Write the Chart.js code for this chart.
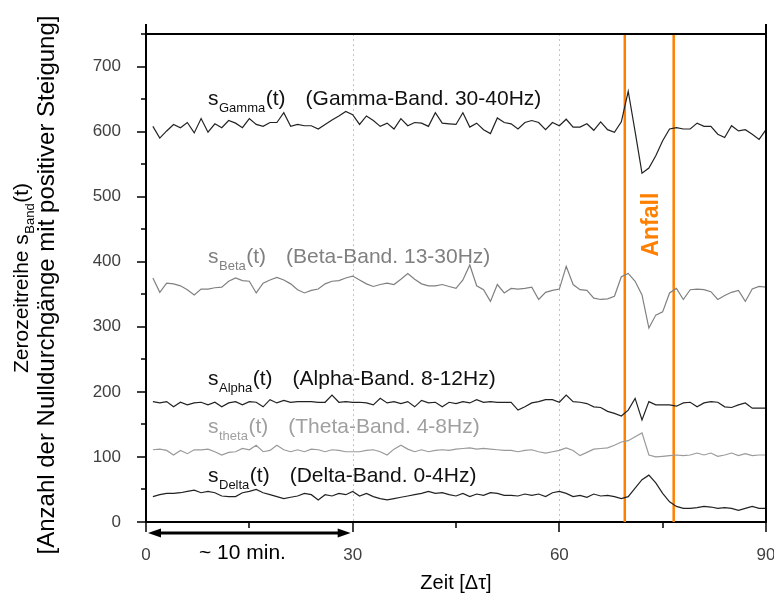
<!DOCTYPE html>
<html>
<head>
<meta charset="utf-8">
<script src="https://cdn.jsdelivr.net/npm/chart.js@4/dist/chart.umd.min.js"></script>
<style>
html,body{margin:0;padding:0;background:#fff;}
#wrap{width:774px;height:599px;}
canvas{display:block;}
</style>
</head>
<body>
<div id="wrap"><canvas id="c" width="774" height="599"></canvas></div>
<script>
// ---------- data ----------
const timeSteps = [1,2,3,4,5,6,7,8,9,10,11,12,13,14,15,16,17,18,19,20,
  21,22,23,24,25,26,27,28,29,30,31,32,33,34,35,36,37,38,39,40,
  41,42,43,44,45,46,47,48,49,50,51,52,53,54,55,56,57,58,59,60,
  61,62,63,64,65,66,67,68,69,70,71,72,73,74,75,76,77,78,79,80,
  81,82,83,84,85,86,87,88,89,90];

const gammaBand = [608,590,601,611,606,614,598,620,599,612,
  606,617,613,606,620,611,608,614,614,629,
  608,611,609,609,604,611,618,624,631,626,
  611,624,617,608,613,604,620,609,614,613,
  608,629,613,612,611,629,607,613,603,597,
  621,614,612,604,614,617,614,603,614,609,
  619,607,607,612,602,615,603,599,615,662,
  600,536,544,563,586,604,606,604,604,613,
  608,608,596,591,609,601,603,596,588,603];

const betaBand = [375,353,367,366,363,357,349,358,358,360,
  361,370,375,371,370,352,367,372,376,372,
  366,357,352,356,358,366,370,371,375,378,
  372,366,362,365,367,365,373,382,373,366,
  363,363,365,362,359,372,395,363,357,339,
  365,352,359,358,359,361,342,353,356,358,
  393,365,357,356,344,342,343,347,377,382,
  370,349,298,318,323,352,359,342,357,358,
  357,354,342,348,353,356,339,358,362,361];

const alphaBand = [185,183,185,177,184,180,183,184,180,184,
  177,183,185,180,185,184,177,188,183,187,
  184,185,185,185,184,184,195,184,185,184,
  184,183,180,190,183,185,182,185,177,187,
  183,184,177,184,182,185,183,188,184,185,
  184,184,184,172,177,183,185,188,188,184,
  195,185,184,182,177,176,170,167,163,172,
  190,157,185,180,180,180,178,183,184,177,
  183,185,184,177,176,180,183,175,175,175];

const thetaBand = [111,112,110,103,110,105,111,111,112,108,
  103,107,108,113,111,118,108,110,118,111,
  108,111,108,112,111,108,111,110,108,108,
  108,110,111,108,103,112,118,112,108,111,
  108,110,111,110,112,113,114,112,113,112,
  111,110,110,108,110,111,108,106,108,110,
  114,110,102,107,112,113,114,118,123,125,
  131,137,103,100,101,102,103,102,103,106,
  103,106,101,103,106,102,105,102,103,103];

const deltaBand = [39,42,44,44,45,47,49,45,47,45,
  40,39,39,45,47,50,45,42,39,36,
  38,40,44,42,34,42,40,44,42,47,
  40,44,39,36,34,36,38,40,42,44,
  47,44,45,42,40,44,39,43,41,45,
  44,41,41,40,43,41,43,39,45,47,
  44,39,41,38,43,40,41,39,36,39,
  52,65,72,60,44,31,24,21,21,22,
  24,23,21,22,21,18,21,24,21,21];

const seizureStart = 69.5;
const seizureEnd = 76.6;

const xTickValues = [0,15,30,45,60,75,90];
const xTickLabels = ['0','','30','','60','','90'];
const yTickValues = [0,50,100,150,200,250,300,350,400,450,500,550,600,650,700,750];
const yTickLabels = ['0','','100','','200','','300','','400','','500','','600','','700',''];

const bandNames = ['Gamma','Beta','Alpha','theta','Delta'];
const bandTexts = ['(Gamma-Band. 30-40Hz)','(Beta-Band. 13-30Hz)','(Alpha-Band. 8-12Hz)','(Theta-Band. 4-8Hz)','(Delta-Band. 0-4Hz)'];

// ---------- styling ----------
const FONT = '"Liberation Sans", Arial, Helvetica, sans-serif';
const seriesColors = ['#222222','#808080','#222222','#9a9a9a','#222222'];
const labelColors  = ['#111111','#808080','#111111','#a0a0a0','#111111'];
const labelAnchorY = [641, 398, 211, 137, 62];   // baseline in data units
const labelAnchorX = 9;

function pts(arr){ return timeSteps.map((t,i)=>({x:t,y:arr[i]})); }
function vline(v){ return [{x:v,y:0},{x:v,y:750}]; }

const series = [gammaBand, betaBand, alphaBand, thetaBand, deltaBand];
const datasets = series.map((arr,i)=>({
  label: bandNames[i], data: pts(arr), borderColor: seriesColors[i],
  borderWidth: 1.2, pointRadius: 0, tension: 0, fill:false
}));
datasets.push({label:'Anfall Beginn', data: vline(seizureStart), borderColor:'#ff8000', borderWidth:2.5, pointRadius:0});
datasets.push({label:'Anfall Ende', data: vline(seizureEnd), borderColor:'#ff8000', borderWidth:2.5, pointRadius:0});

const deco = {
  id:'deco',
  beforeDatasetsDraw(chart){
    const {ctx, chartArea:a, scales:{x}} = chart;
    ctx.save();
    ctx.strokeStyle = '#c4c4c4'; ctx.lineWidth = 1; ctx.setLineDash([2,3]);
    [30,60].forEach(v=>{
      const px = Math.round(x.getPixelForValue(v))+0.5;
      ctx.beginPath(); ctx.moveTo(px,a.top); ctx.lineTo(px,a.bottom); ctx.stroke();
    });
    ctx.restore();
  },
  afterDraw(chart){
    const {ctx, chartArea:a, scales:{x,y}} = chart;
    ctx.save();
    // frame
    ctx.strokeStyle='#000'; ctx.lineWidth=2;
    ctx.beginPath();
    ctx.moveTo(a.left, a.top-10); ctx.lineTo(a.left, a.top);
    ctx.moveTo(a.left, a.top); ctx.lineTo(a.right, a.top);
    ctx.moveTo(a.right, a.top-10); ctx.lineTo(a.right, a.bottom);
    ctx.stroke();
    // ticks
    ctx.lineWidth = 1.5;
    ctx.beginPath();
    yTickValues.forEach(v=>{
      const py = Math.round(y.getPixelForValue(v));
      const len = v%100===0 ? 9 : 5;
      ctx.moveTo(a.left-len, py); ctx.lineTo(a.left, py);
    });
    xTickValues.forEach(v=>{
      const px = Math.round(x.getPixelForValue(v));
      const len = v%30===0 ? 10 : 6;
      ctx.moveTo(px, a.bottom); ctx.lineTo(px, a.bottom+len);
    });
    ctx.stroke();

    // arrow 0..30
    const ax1 = x.getPixelForValue(0)+2, ax2 = x.getPixelForValue(30)-2, ay = a.bottom+11;
    ctx.lineWidth = 3; ctx.strokeStyle='#000'; ctx.fillStyle='#000';
    ctx.beginPath(); ctx.moveTo(ax1+8, ay); ctx.lineTo(ax2-8, ay); ctx.stroke();
    ctx.beginPath(); ctx.moveTo(ax1, ay); ctx.lineTo(ax1+13, ay-4.5); ctx.lineTo(ax1+13, ay+4.5); ctx.closePath(); ctx.fill();
    ctx.beginPath(); ctx.moveTo(ax2, ay); ctx.lineTo(ax2-13, ay-4.5); ctx.lineTo(ax2-13, ay+4.5); ctx.closePath(); ctx.fill();
    ctx.font = `21px ${FONT}`; ctx.textAlign='center'; ctx.textBaseline='middle';
    ctx.fillText('~ 10 min.', x.getPixelForValue(14), a.bottom+31);

    // band labels
    ctx.textAlign='left'; ctx.textBaseline='alphabetic';
    bandNames.forEach((n,i)=>{
      const x0 = x.getPixelForValue(labelAnchorX);
      const yb = y.getPixelForValue(labelAnchorY[i]);
      ctx.fillStyle = labelColors[i];
      ctx.font = `21px ${FONT}`;
      ctx.fillText('s', x0, yb);
      let cx = x0 + ctx.measureText('s').width + 0.5;
      ctx.font = `13px ${FONT}`;
      ctx.fillText(n, cx, yb+7);
      cx += ctx.measureText(n).width + 0.5;
      ctx.font = `21px ${FONT}`;
      ctx.fillText('(t)', cx, yb);
      cx += ctx.measureText('(t)').width + 20;
      ctx.fillText(bandTexts[i], cx, yb);
    });

    // Anfall
    ctx.save();
    ctx.translate(x.getPixelForValue(73.45), y.getPixelForValue(457));
    ctx.rotate(-Math.PI/2);
    ctx.fillStyle='#ff8000'; ctx.font=`bold 23px ${FONT}`;
    ctx.textAlign='center'; ctx.textBaseline='middle';
    ctx.fillText('Anfall', 0, 0);
    ctx.restore();

    // y-axis title
    const cy = (a.top + a.bottom)/2;
    ctx.save();
    ctx.translate(0, cy);
    ctx.rotate(-Math.PI/2);
    ctx.fillStyle='#000'; ctx.textBaseline='alphabetic'; ctx.textAlign='left';
    // line 1 : baseline at screen x=28
    ctx.font = `21px ${FONT}`;
    const p1 = 'Zerozeitreihe s', p3 = '(t)';
    const w1 = ctx.measureText(p1).width, w3 = ctx.measureText(p3).width;
    ctx.font = `13px ${FONT}`;
    const w2 = ctx.measureText('Band').width;
    const tot = w1 + w2 + w3 + 1;
    let lx = -tot/2;
    ctx.font = `21px ${FONT}`; ctx.fillText(p1, lx, 28);
    lx += w1 + 0.5;
    ctx.font = `13px ${FONT}`; ctx.fillText('Band', lx, 28+6);
    lx += w2 + 0.5;
    ctx.font = `21px ${FONT}`; ctx.fillText(p3, lx, 28);
    // line 2
    ctx.textAlign='center';
    ctx.font = `24px ${FONT}`;
    ctx.fillText('[Anzahl der Nulldurchgänge mit positiver Steigung]', -7, 54);
    ctx.restore();

    ctx.restore();
  }
};

new Chart(document.getElementById('c'), {
  type:'line',
  data:{ datasets },
  options:{
    responsive:false, animation:false, devicePixelRatio:1,
    layout:{ padding:{top:34,right:8,left:0,bottom:0}, autoPadding:false },
    plugins:{ legend:{display:false}, tooltip:{enabled:false} },
    scales:{
      x:{
        type:'linear', min:0, max:90,
        afterBuildTicks: s => { s.ticks = xTickValues.map(v=>({value:v})); },
        afterFit: s => { s.height = 77; s.paddingLeft = 0; s.paddingRight = 0; },
        grid:{display:false},
        border:{display:true, color:'#000', width:2},
        ticks:{ autoSkip:false, maxRotation:0, padding:15, color:'#404040',
          font:{family:FONT, size:17},
          callback: v => { const k = xTickValues.indexOf(v); return k>=0 ? xTickLabels[k] : ''; } },
        title:{ display:true, text:'Zeit [Δτ]', color:'#000', font:{family:FONT, size:20}, padding:{top:0,bottom:4} }
      },
      y:{
        type:'linear', min:0, max:750,
        afterBuildTicks: s => { s.ticks = yTickValues.map(v=>({value:v})); },
        afterFit: s => { s.width = 146; s.paddingTop = 0; s.paddingBottom = 0; },
        grid:{display:false},
        border:{display:true, color:'#000', width:2},
        ticks:{ autoSkip:false, padding:17, color:'#404040',
          font:{family:FONT, size:17},
          callback: v => { const k = yTickValues.indexOf(v); return k>=0 ? yTickLabels[k] : ''; } }
      }
    }
  },
  plugins:[deco]
});
</script>
</body>
</html>
